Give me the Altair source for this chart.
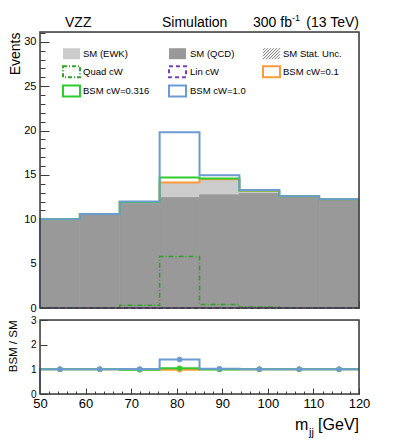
import altair as alt
import pandas as pd

# ---------------- data ----------------
edges = [50, 58.75, 67.5, 76.25, 85, 93.75, 102.5, 111.25, 120]
sm_qcd = [9.9, 10.5, 11.8, 12.45, 12.75, 12.9, 12.55, 12.2]
sm_ewk = [0.1, 0.1, 0.15, 1.65, 1.75, 0.3, 0.05, 0.05]
quad_cw = [0.0, 0.0, 0.3, 5.8, 0.4, 0.1, 0.0, 0.0]
lin_cw = [0.0, 0.0, 0.0, 0.0, 0.0, 0.0, 0.0, 0.0]
bsm_01 = [10.0, 10.6, 11.95, 14.15, 14.5, 13.2, 12.6, 12.25]
bsm_0316 = [10.0, 10.6, 11.95, 14.7, 14.6, 13.25, 12.6, 12.25]
bsm_10 = [10.0, 10.6, 12.0, 19.8, 14.95, 13.3, 12.6, 12.25]
ratio_01 = [1.0, 1.0, 0.99, 0.98, 1.0, 1.0, 1.0, 1.0]
ratio_0316 = [1.0, 1.0, 0.98, 1.04, 0.99, 1.0, 1.0, 1.0]
ratio_10 = [1.0, 1.0, 1.01, 1.40, 1.02, 1.0, 1.0, 1.0]
x_major = [50, 60, 70, 80, 90, 100, 110, 120]
x_minor = list(range(50, 121, 2))
y_major = [0, 5, 10, 15, 20, 25, 30]
y_minor = list(range(0, 32))
r_major = [0, 1, 2, 3]

# ---------------- layout / style ----------------
W, H, HR = 319, 276, 74
YMAX = 31.1
FONT = "Liberation Sans"
C_QCD, C_EWK = "#999999", "#cccccc"
C_BLUE, C_GREEN, C_ORANGE = "#6b9bd1", "#2ecc2e", "#ff9a3c"
C_QUAD, C_LIN = "#33a02c", "#7a3fb8"
FRAME = "#3a3a3a"

xs = alt.Scale(domain=[50, 120], nice=False, zero=False)
ys = alt.Scale(domain=[0, YMAX], nice=False, zero=False)
rs = alt.Scale(domain=[0, 3], nice=False, zero=False)

one = pd.DataFrame({"a": [0]})


def step_df(vals):
    xv = [edges[0]] + edges
    yv = [0] + list(vals) + [vals[-1]]
    return pd.DataFrame({"x": xv, "y": yv, "o": list(range(len(xv)))})


def step_line(vals, color, scale, width=2.0, dash=None):
    kw = dict(interpolate="step-after", color=color, strokeWidth=width)
    if dash:
        kw["strokeDash"] = dash
    return alt.Chart(step_df(vals)).mark_line(**kw).encode(
        x=alt.X("x:Q", scale=xs, axis=None),
        y=alt.Y("y:Q", scale=scale, axis=None),
        order="o:Q",
    )


def text_at(txt, px, py, size, align="left", baseline="alphabetic", angle=0):
    return alt.Chart(one).mark_text(
        text=txt, font=FONT, fontSize=size, align=align, baseline=baseline,
        angle=angle, color="black"
    ).encode(x=alt.value(px), y=alt.value(py))


def frame(h):
    return alt.Chart(one).mark_rect(fill=None, stroke=FRAME, strokeWidth=1.5).encode(
        x=alt.value(0), x2=alt.value(W), y=alt.value(0), y2=alt.value(h)
    )


def tick_layer(scale_y, h, xvals, yvals, xsize, ysize):
    d = pd.DataFrame({"x": [50], "y": [0]})
    return alt.Chart(d).mark_point(opacity=0).encode(
        x=alt.X("x:Q", scale=xs, title=None,
                axis=alt.Axis(orient="top", offset=-h, values=xvals, labels=False,
                              domain=False, grid=False, tickSize=xsize,
                              tickColor=FRAME, tickWidth=1)),
        y=alt.Y("y:Q", scale=scale_y, title=None,
                axis=alt.Axis(orient="right", offset=-W, values=yvals, labels=False,
                              domain=False, grid=False, tickSize=ysize,
                              tickColor=FRAME, tickWidth=1)),
    )


# ---------------- top panel ----------------
lo, hi = edges[:-1], edges[1:]
bars = pd.DataFrame({"lo": lo, "hi": hi, "z": [0] * 8, "qcd": sm_qcd,
                     "tot": [q + e for q, e in zip(sm_qcd, sm_ewk)]})

qcd_layer = alt.Chart(bars).mark_rect(color=C_QCD, stroke=C_QCD, strokeWidth=0.8).encode(
    x=alt.X("lo:Q", scale=xs, title=None,
            axis=alt.Axis(orient="bottom", labels=False, ticks=False, domain=False, grid=False)),
    x2="hi:Q",
    y=alt.Y("z:Q", scale=ys,
            axis=alt.Axis(orient="left", values=y_major, ticks=False, domain=False, grid=False,
                          labelFont=FONT, labelFontSize=11, labelPadding=4, labelColor="black",
                          labelFlush=False, labelOverlap=False,
                          title="Events", titleFont=FONT, titleFontSize=14,
                          titleFontWeight="normal", titleAnchor="end", titleX=-25,
                          titleBaseline="middle", titleColor="black")),
    y2="qcd:Q",
)
ewk_layer = alt.Chart(bars).mark_rect(color=C_EWK, stroke=C_EWK, strokeWidth=0.6).encode(
    x=alt.X("lo:Q", scale=xs, axis=None), x2="hi:Q",
    y=alt.Y("qcd:Q", scale=ys, axis=None), y2="tot:Q",
)

top_layers = [ewk_layer, qcd_layer,
              step_line(quad_cw, C_QUAD, ys, 1.5, [5, 2, 1, 2]),
              step_line(lin_cw, C_LIN, ys, 2, [4, 3]),
              step_line(bsm_01, C_ORANGE, ys),
              step_line(bsm_0316, C_GREEN, ys),
              step_line(bsm_10, C_BLUE, ys)]

# legend (pixel layout inside the plot, converted to data coords)
X0, Y0 = 40, 31


def dx(px):
    return 50 + (px - X0) / W * 70


def dy(py):
    return (Y0 + H - py) / H * YMAX


col_box = [63, 169, 263]
col_txt = [83, 190, 283]
row_c = [52.7, 70.7, 90.0]
BW, BH = 17, 11
legend_items = [
    ("SM (EWK)", 0, 0, "fill", C_EWK, None),
    ("SM (QCD)", 1, 0, "fill", C_QCD, None),
    ("SM Stat. Unc.", 2, 0, "hatch", "#777777", None),
    ("Quad cW", 0, 1, "line", C_QUAD, [4, 2, 1, 2]),
    ("Lin cW", 1, 1, "line", C_LIN, [4, 3]),
    ("BSM cW=0.1", 2, 1, "line", C_ORANGE, None),
    ("BSM cW=0.316", 0, 2, "line", C_GREEN, None),
    ("BSM cW=1.0", 1, 2, "line", C_BLUE, None),
]
for label, c, r, kind, color, dash in legend_items:
    bx0, bx1 = col_box[c], col_box[c] + BW
    by0, by1 = row_c[r] - BH / 2, row_c[r] + BH / 2
    box = pd.DataFrame({"x": [dx(bx0)], "x2": [dx(bx1)], "y": [dy(by1)], "y2": [dy(by0)]})
    if kind == "fill":
        m = alt.Chart(box).mark_rect(color=color)
    elif kind == "line":
        kw = dict(fill=None, stroke=color, strokeWidth=2)
        if dash:
            kw["strokeDash"] = dash
        m = alt.Chart(box).mark_rect(**kw)
    else:
        segs = []
        for k in range(-4, 7):
            pts = []
            for yy in (by1, by0):
                xx = bx0 + 3 * k + (by1 - yy)
                pts.append((xx, yy))
            (xa, ya), (xb, yb) = pts
            if xa < bx0:
                ya -= bx0 - xa
                xa = bx0
            if xb > bx1:
                yb += xb - bx1
                xb = bx1
            if xa < xb and ya > yb:
                segs.append({"x": dx(xa), "y": dy(ya), "x2": dx(xb), "y2": dy(yb)})
        m = alt.Chart(pd.DataFrame(segs)).mark_rule(color=color, strokeWidth=1)
    top_layers.append(m.encode(x=alt.X("x:Q", scale=xs, axis=None), x2="x2:Q",
                               y=alt.Y("y:Q", scale=ys, axis=None), y2="y2:Q"))
    top_layers.append(text_at(label, col_txt[c] - X0, row_c[r] - Y0, 9.5, baseline="middle"))

# header
top_layers += [
    text_at("VZZ", 25, -5, 14),
    text_at("Simulation", 122, -5, 14),
    text_at("300 fb", 213, -5, 14),
    text_at("-1", 252, -11, 9),
    text_at("(13 TeV)", W, -5, 14, align="right"),
]
top_layers += [tick_layer(ys, H, x_major, y_major, 7, 9),
               tick_layer(ys, H, x_minor, y_minor, 4, 5),
               frame(H)]

top = alt.layer(*top_layers).resolve_axis(x="independent", y="independent").properties(
    width=W, height=H)

# ---------------- ratio panel ----------------
centers = [(a + b) / 2 for a, b in zip(lo, hi)]
bot_layers = []
for vals, color in [(ratio_01, C_ORANGE), (ratio_0316, C_GREEN), (ratio_10, C_BLUE)]:
    bot_layers.append(step_line(vals, color, rs, 2))
    pts = pd.DataFrame({"x": centers, "y": vals})
    bot_layers.append(alt.Chart(pts).mark_circle(color=color, size=30, opacity=1).encode(
        x=alt.X("x:Q", scale=xs, axis=None), y=alt.Y("y:Q", scale=rs, axis=None)))

axis_layer = alt.Chart(pd.DataFrame({"x": [50], "y": [0]})).mark_point(opacity=0).encode(
    x=alt.X("x:Q", scale=xs, title=None,
            axis=alt.Axis(orient="bottom", values=x_major, ticks=False, domain=False, grid=False,
                          labelFont=FONT, labelFontSize=13, labelPadding=3, labelColor="black",
                          labelFlush=False, labelOverlap=False)),
    y=alt.Y("y:Q", scale=rs,
            axis=alt.Axis(orient="left", values=r_major, ticks=False, domain=False, grid=False,
                          labelFont=FONT, labelFontSize=10, labelPadding=4, labelColor="black",
                          labelFlush=False, labelOverlap=False,
                          title="BSM / SM", titleFont=FONT, titleFontSize=11.5,
                          titleFontWeight="normal", titleAnchor="end", titleX=-27,
                          titleBaseline="middle", titleColor="black")),
)
bot_layers = [axis_layer] + bot_layers + [
    tick_layer(rs, HR, x_major, r_major, 6, 7),
    tick_layer(rs, HR, x_minor, [], 3, 4),
    frame(HR),
    text_at("m", 255, 110, 16),
    text_at("jj", 269, 116, 11),
    text_at("[GeV]", W, 110, 16, align="right"),
]
bottom = alt.layer(*bot_layers).resolve_axis(x="independent", y="independent").properties(
    width=W, height=HR)

chart = alt.vconcat(top, bottom, spacing=0).properties(
    padding={"left": -2, "top": 5, "right": 5, "bottom": 0}
).configure_view(stroke=None).configure(background="white")

chart.save("out.html", embed_options={"renderer": "svg", "actions": False})
